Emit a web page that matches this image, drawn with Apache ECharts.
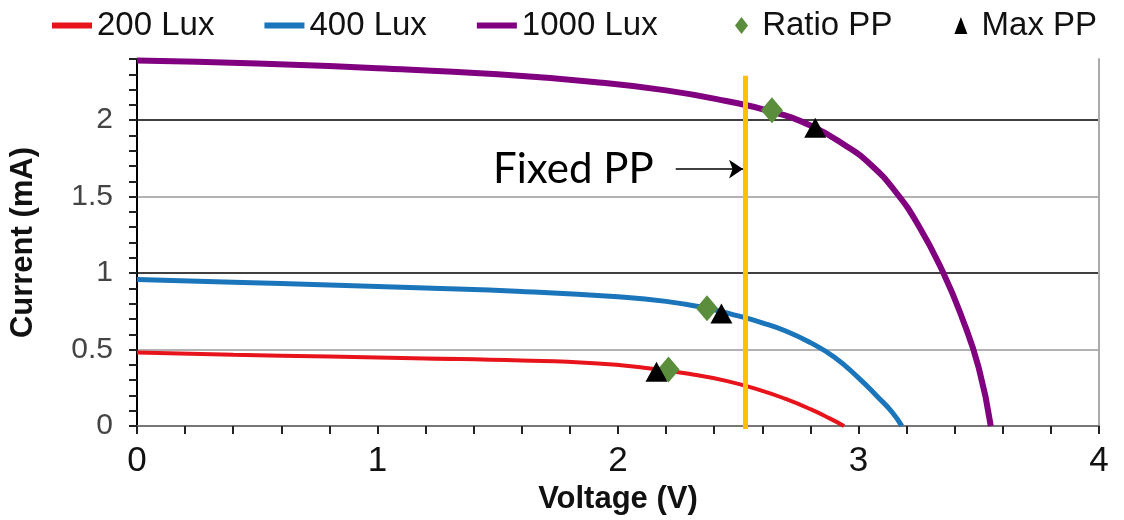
<!DOCTYPE html>
<html>
<head>
<meta charset="utf-8">
<script src="https://cdn.jsdelivr.net/npm/echarts@6/dist/echarts.min.js"></script>
<style>
  html, body { margin: 0; background: #fff; }
  #chart { width: 1124px; height: 520px; }
</style>
</head>
<body>
<div id="chart"></div>
<script>
// I-V curves (V in volts, I in mA)
const v200 = [0, 0.4, 0.8, 1.2, 1.6, 1.9, 2.1, 2.3, 2.45, 2.6, 2.7, 2.8, 2.88, 2.94]
const i200 = [0.48, 0.466, 0.454, 0.442, 0.428, 0.41, 0.383, 0.34, 0.295, 0.23, 0.175, 0.11, 0.05, 0]
const v400 = [0, 0.4, 0.8, 1.2, 1.6, 2.0, 2.2, 2.37, 2.5, 2.6, 2.7, 2.8, 2.9, 3.0, 3.08, 3.14, 3.18]
const i400 = [0.958, 0.94, 0.922, 0.903, 0.88, 0.845, 0.815, 0.77, 0.72, 0.675, 0.62, 0.545, 0.45, 0.315, 0.19, 0.09, 0]
const v1000 = [0, 0.5, 1.0, 1.5, 1.9, 2.2, 2.45, 2.64, 2.8, 2.95, 3.05, 3.15, 3.25, 3.35, 3.43, 3.5, 3.55]
const i1000 = [2.39, 2.37, 2.34, 2.3, 2.25, 2.195, 2.125, 2.055, 1.965, 1.83, 1.71, 1.54, 1.31, 1.01, 0.71, 0.38, 0]

// power points (200, 400, 1000 Lux)
const ratioV = [2.21, 2.37, 2.64]
const ratioI = [0.37, 0.77, 2.065]
const maxV = [2.16, 2.43, 2.82]
const maxI = [0.355, 0.735, 1.95]

// fixed power point line + arrow
const fixedV = 2.53
const fixedTop = 2.29
const arrowFrom = [2.24, 1.68]

const xLabels = [0, 1, 2, 3, 4]
const yLabels = [0, 0.5, 1, 1.5, 2]
const gridBlack = [1, 2]
const gridGray = [0.5, 1.5]

const zip = (xs, ys) => xs.map((x, i) => [x, ys[i]])
const near = (v, list) => list.some(t => Math.abs(v - t) < 1e-6)

// one colour per 0.1 tick on the y axis: only a few of them are visible grid lines
const yGridColors = []
for (let k = 0; k <= 24; k++) {
    const v = k / 10
    yGridColors.push(near(v, gridBlack) ? '#000' : near(v, gridGray) ? '#999' : 'rgba(0,0,0,0)')
}

const chart = echarts.init(document.getElementById('chart'))
const legendFont = { fontFamily: 'Liberation Sans', fontSize: 33, color: '#111' }
const curve = { type: 'line', smooth: 0.5, showSymbol: false, z: 3 }

const option = {
    animation: false,
    backgroundColor: '#fff',
    grid: { left: 137, right: 25, top: 59, bottom: 94, outerBoundsMode: 'none' },
    legend: [
        {
            top: 4, left: 47, itemGap: 50, itemWidth: 40, itemHeight: 6,
            textStyle: legendFont,
            data: [
                { name: '200 Lux', icon: 'rect' },
                { name: '400 Lux', icon: 'rect' },
                { name: '1000 Lux', icon: 'rect' }
            ]
        },
        {
            top: 4, left: 730, itemGap: 62, itemWidth: 13, itemHeight: 17,
            textStyle: legendFont,
            formatter: name => ' ' + name,
            data: [
                { name: 'Ratio PP', icon: 'diamond' },
                { name: 'Max PP', icon: 'triangle' }
            ]
        }
    ],
    xAxis: {
        type: 'value', min: 0, max: 4, interval: 0.2,
        name: 'Voltage (V)', nameLocation: 'middle', nameGap: 58,
        nameTextStyle: { fontFamily: 'Liberation Sans', fontWeight: 'bold', fontSize: 31, color: '#111' },
        axisLine: { lineStyle: { color: '#777', width: 2 } },
        axisTick: { length: 8, lineStyle: { color: '#222', width: 2 } },
        axisLabel: {
            margin: 18, fontFamily: 'Liberation Sans', fontSize: 35, color: '#111',
            formatter: v => near(v, xLabels) ? String(Math.round(v)) : ''
        },
        splitLine: { show: false }
    },
    yAxis: [
        {
            type: 'value', min: 0, max: 2.4, interval: 0.1,
            name: 'Current (mA)', nameLocation: 'middle', nameGap: 98,
            nameTextStyle: { fontFamily: 'Liberation Sans', fontWeight: 'bold', fontSize: 31, color: '#111' },
            axisLine: { show: true, lineStyle: { color: '#000', width: 2 } },
            axisTick: { length: 8, lineStyle: { color: '#222', width: 2 } },
            axisLabel: {
                margin: 24, fontFamily: 'Liberation Sans', fontSize: 30, color: '#444',
                formatter: v => near(v, yLabels) ? String(Math.round(v * 10) / 10) : ''
            },
            splitLine: { show: true, lineStyle: { color: yGridColors, width: 1.5 } }
        },
        {
            type: 'value', min: 0, max: 2.4, position: 'right',
            axisLine: { show: true, lineStyle: { color: '#aaa', width: 2 } },
            axisTick: { show: false }, axisLabel: { show: false }, splitLine: { show: false }
        }
    ],
    series: [
        Object.assign({}, curve, {
            name: '200 Lux', data: zip(v200, i200),
            lineStyle: { color: '#e8141b', width: 4 }, itemStyle: { color: '#e8141b' }
        }),
        Object.assign({}, curve, {
            name: '400 Lux', data: zip(v400, i400),
            lineStyle: { color: '#1b75bb', width: 5 }, itemStyle: { color: '#1b75bb' }
        }),
        Object.assign({}, curve, {
            name: '1000 Lux', data: zip(v1000, i1000),
            lineStyle: { color: '#800080', width: 6 }, itemStyle: { color: '#800080' }
        }),
        {
            name: 'Fixed', type: 'line', data: [[fixedV, -0.02], [fixedV, fixedTop]], showSymbol: false,
            clip: false, lineStyle: { color: '#ffc000', width: 5 }, z: 4,
            markLine: {
                silent: true, symbol: ['none', 'arrow'], symbolSize: [14, 14],
                lineStyle: { color: '#000', width: 1.5, type: 'solid' },
                label: {
                    show: true, position: 'start', distance: 22, formatter: 'Fixed PP',
                    fontFamily: 'Lato', fontSize: 42, color: '#000'
                },
                data: [[{ coord: arrowFrom }, { coord: [fixedV - 0.01, arrowFrom[1]] }]]
            }
        },
        {
            name: 'Ratio PP', type: 'scatter', data: zip(ratioV, ratioI), symbol: 'diamond', symbolSize: [22, 26],
            itemStyle: { color: '#5a8e3c', opacity: 1 }, z: 5
        },
        {
            name: 'Max PP', type: 'scatter', data: zip(maxV, maxI), symbol: 'triangle', symbolSize: [22, 20],
            itemStyle: { color: '#000', opacity: 1 }, z: 6
        }
    ]
}
chart.setOption(option)
</script>
</body>
</html>
